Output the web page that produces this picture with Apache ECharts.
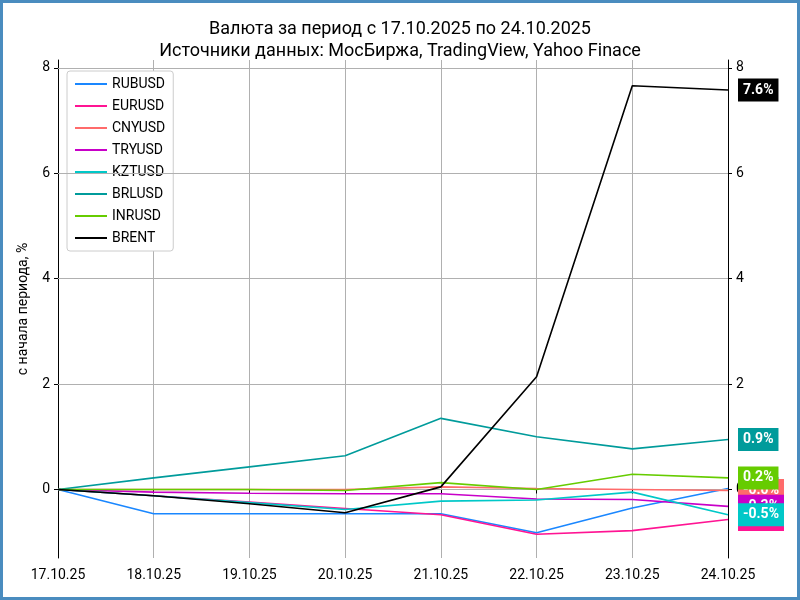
<!DOCTYPE html>
<html>
<head>
<meta charset="utf-8">
<script src="https://cdn.jsdelivr.net/npm/echarts@6/dist/echarts.min.js"></script>
<style>
  html, body { margin: 0; padding: 0; background: #fff; }
  #chart { width: 794px; height: 594px; border: 3px solid #4a8cbf; }
</style>
</head>
<body>
<div id="chart"></div>
<script>
// даты и значения (% с начала периода)
const dates = ['17.10.25', '18.10.25', '19.10.25', '20.10.25', '21.10.25', '22.10.25', '23.10.25', '24.10.25'];
const rubusd = [0, -0.46, -0.46, -0.46, -0.46, -0.82, -0.35, 0.02];
const eurusd = [0, -0.12, -0.24, -0.36, -0.48, -0.85, -0.78, -0.57];
const cnyusd = [0, 0, 0, 0, 0.05, 0.02, 0, -0.02];
const tryusd = [0, -0.05, -0.07, -0.08, -0.08, -0.18, -0.19, -0.32];
const kztusd = [0, -0.12, -0.25, -0.38, -0.22, -0.2, -0.05, -0.48];
const brlusd = [0, 0.22, 0.43, 0.64, 1.35, 1.0, 0.77, 0.95];
const inrusd = [0, 0, 0, -0.02, 0.13, 0.0, 0.29, 0.22];
const brent = [0, -0.12, -0.27, -0.44, 0.05, 2.14, 7.66, 7.58];
const yTicks = [0, 2, 4, 6, 8];

const seriesList = [
  ['RUBUSD', rubusd, '#1a87ff'],
  ['EURUSD', eurusd, '#ff1493'],
  ['CNYUSD', cnyusd, '#ff6b6b'],
  ['TRYUSD', tryusd, '#c800c8'],
  ['KZTUSD', kztusd, '#00c8c8'],
  ['BRLUSD', brlusd, '#009b9b'],
  ['INRUSD', inrusd, '#66cc00'],
  ['BRENT', brent, '#000000']
];

const chart = echarts.init(document.getElementById('chart'));

const yAxisBase = {
  type: 'value',
  min: -1.3,
  max: 8.15,
  axisLine: { show: true, lineStyle: { color: '#000' } },
  axisTick: { show: true, customValues: yTicks, length: 4, lineStyle: { color: '#000' } },
  axisLabel: { customValues: yTicks, color: '#000', fontSize: 14, fontFamily: 'Roboto' }
};

chart.setOption({
  animation: false,
  backgroundColor: '#fff',
  title: {
    text: 'Валюта за период с 17.10.2025 по 24.10.2025\nИсточники данных: МосБиржа, TradingView, Yahoo Finace',
    left: 'center',
    top: 10,
    textStyle: { fontSize: 18, fontWeight: 'normal', color: '#000', fontFamily: 'Roboto', lineHeight: 22 }
  },
  legend: {
    orient: 'vertical',
    left: 64,
    top: 68,
    padding: [6, 8, 6, 8],
    itemGap: 8,
    itemWidth: 32,
    itemHeight: 2,
    icon: 'rect',
    borderColor: '#ccc',
    borderWidth: 1,
    borderRadius: 3,
    backgroundColor: '#fff',
    textStyle: { fontSize: 14, fontFamily: 'Roboto', color: '#000' },
    data: seriesList.map(s => s[0])
  },
  grid: { left: 55, right: 69, top: 57, bottom: 39 },
  xAxis: {
    type: 'category',
    data: dates,
    boundaryGap: false,
    axisLine: { lineStyle: { color: '#000' } },
    axisTick: { length: 4, lineStyle: { color: '#000' } },
    axisLabel: { color: '#000', fontSize: 14, fontFamily: 'Roboto', margin: 10 },
    splitLine: { show: true, lineStyle: { color: '#b0b0b0' } }
  },
  yAxis: [
    Object.assign({}, yAxisBase, {
      position: 'left',
      name: 'с начала периода, %',
      nameLocation: 'middle',
      nameGap: 28,
      nameTextStyle: { fontSize: 14, fontFamily: 'Roboto', color: '#000' },
      splitLine: { show: false }
    }),
    Object.assign({}, yAxisBase, { position: 'right', splitLine: { show: false } })
  ],
  series: seriesList.map(([name, vals, color], i) => ({
    name: name,
    type: 'line',
    data: vals,
    symbol: 'none',
    color: color,
    lineStyle: { width: 1.6, color: color },
    z: 3 + i,
    endLabel: {
      show: true,
      distance: 10,
      formatter: p => p.value.toFixed(1) + '%',
      color: '#fff',
      fontWeight: 'bold',
      fontSize: 14,
      fontFamily: 'Roboto',
      backgroundColor: color,
      padding: [5, 5, 4, 5]
    },
    markLine: i === 0 ? {
      silent: true,
      symbol: 'none',
      label: { show: false },
      lineStyle: { color: '#b0b0b0', type: 'solid', width: 1 },
      data: yTicks.map(v => ({ yAxis: v }))
    } : undefined
  }))
});
</script>
</body>
</html>
